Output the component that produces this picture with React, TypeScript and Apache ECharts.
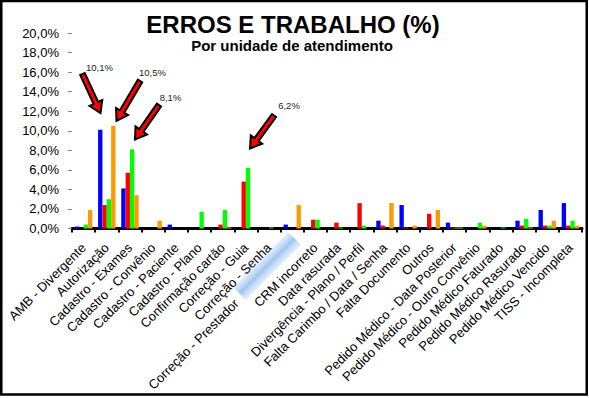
import React, { useEffect, useRef } from "react";
import * as echarts from "echarts";

const categories = [
  "AMB - Divergente",
  "Autorização",
  "Cadastro - Exames",
  "Cadastro - Convênio",
  "Cadastro - Paciente",
  "Cadastro - Plano",
  "Confirmação cartão",
  "Correção - Guia",
  "Correção - Senha",
  "Correção - Prestador",
  "CRM incorreto",
  "Data rasurada",
  "Divergência - Plano / Perfil",
  "Falta Carimbo / Data / Senha",
  "Falta Documento",
  "Outros",
  "Pedido Médico - Data Posterior",
  "Pedido Médico - Outro Convênio",
  "Pedido Médico Faturado",
  "Pedido Médico Rasurado",
  "Pedido Médico Vencido",
  "TISS - Incompleta",
];

const seriesNames = ["Unidade 1", "Unidade 2", "Unidade 3", "Unidade 4"];
const blueValues = [0.2, 10.1, 4.1, 0, 0.4, 0, 0, 0, 0, 0.4, 0, 0, 0, 0.8, 2.4, 0.1, 0.6, 0, 0, 0.8, 1.9, 2.6];
const redValues = [0, 2.4, 5.7, 0, 0, 0, 0.4, 4.8, 0, 0, 0.9, 0.6, 2.6, 0.3, 0.1, 1.5, 0.1, 0, 0, 0.3, 0.3, 0.3];
const greenValues = [0.4, 3.0, 8.1, 0, 0, 1.7, 1.9, 6.2, 0.1, 0, 0.9, 0.1, 0.3, 0, 0, 0, 0.1, 0.6, 0.1, 1.0, 0.3, 0.8];
const orangeValues = [1.9, 10.5, 3.4, 0.8, 0, 0, 0.1, 0, 0, 2.4, 0, 0, 0, 2.6, 0.3, 1.9, 0.1, 0.3, 0, 0.1, 0.8, 0.3];

const yTicks = [0, 2, 4, 6, 8, 10, 12, 14, 16, 18, 20];

const callouts = [
  { text: "10,1%", tail: [82.5, 74], tip: [100.5, 113], label: [99.5, 67.5] },
  { text: "10,5%", tail: [140, 81], tip: [116.5, 121], label: [152.5, 72.5] },
  { text: "8,1%", tail: [159, 105], tip: [135, 139.5], label: [170.5, 97.5] },
  { text: "6,2%", tail: [274, 115.5], tip: [250, 148.5], label: [289, 105.7] },
];

const displacedLabel = "Correção - Prestador";

const FONT = "'Liberation Sans', Arial, sans-serif";

function arrowPoints(tail: number[], tip: number[], sh: number, hh: number, hl: number) {
  const dx = tip[0] - tail[0];
  const dy = tip[1] - tail[1];
  const len = Math.sqrt(dx * dx + dy * dy);
  const ux = dx / len;
  const uy = dy / len;
  const px = -uy;
  const py = ux;
  const bx = tip[0] - ux * hl;
  const by = tip[1] - uy * hl;
  return [
    [tail[0] + px * sh, tail[1] + py * sh],
    [bx + px * sh, by + py * sh],
    [bx + px * hh, by + py * hh],
    [tip[0], tip[1]],
    [bx - px * hh, by - py * hh],
    [bx - px * sh, by - py * sh],
    [tail[0] - px * sh, tail[1] - py * sh],
  ];
}

export default function App() {
  const ref = useRef<HTMLDivElement>(null);

  useEffect(() => {
    if (!ref.current) return;
    const chart = echarts.init(ref.current, null, { renderer: "svg" });
    const colors = ["#0000FF", "#FF0000", "#00FF00", "#FF9900"];
    const values = [blueValues, redValues, greenValues, orangeValues];

    const graphics: any[] = [
      {
        type: "rect",
        z: 0,
        silent: true,
        shape: { x: 1.25, y: 1, width: 585.5, height: 393.5 },
        style: { fill: "none", stroke: "#000", lineWidth: 2.5 },
      },
      {
        type: "text",
        x: 293,
        y: 12,
        style: {
          text: "ERROS E TRABALHO (%)",
          font: `bold 24px ${FONT}`,
          fill: "#000",
          textAlign: "center",
          textVerticalAlign: "top",
        },
      },
      {
        type: "text",
        x: 292,
        y: 38,
        style: {
          text: "Por unidade de atendimento",
          font: `bold 15px ${FONT}`,
          fill: "#000",
          textAlign: "center",
          textVerticalAlign: "top",
        },
      },
      {
        type: "rect",
        x: 267,
        y: 266,
        rotation: Math.PI / 4,
        silent: true,
        z: 0,
        shape: { x: -39, y: -9, width: 78, height: 18 },
        style: {
          fill: new echarts.graphic.LinearGradient(0, 0, 0, 1, [
            { offset: 0, color: "rgba(200,222,248,0.5)" },
            { offset: 0.5, color: "#9fc4ef" },
            { offset: 1, color: "rgba(200,222,248,0.5)" },
          ]),
        },
      },
    ];

    callouts.forEach((c) => {
      graphics.push({
        type: "polygon",
        z: 10,
        shape: { points: arrowPoints(c.tail, c.tip, 2.5, 7, 11) },
        style: { fill: "#FF0000", stroke: "#000", lineWidth: 2, lineJoin: "miter" },
      });
      graphics.push({
        type: "text",
        z: 10,
        x: c.label[0],
        y: c.label[1],
        style: {
          text: c.text,
          font: `9.5px ${FONT}`,
          fill: "#222",
          textAlign: "center",
          textVerticalAlign: "middle",
        },
      });
    });

    chart.setOption({
      animation: false,
      backgroundColor: "#fff",
      grid: { left: 72, right: 7, top: 33, bottom: 169.5, containLabel: false },
      xAxis: {
        type: "category",
        data: categories,
        boundaryGap: true,
        axisLine: { show: true, lineStyle: { color: "#000", width: 3 } },
        axisTick: { show: true, length: 4, lineStyle: { color: "#000", width: 2 } },
        axisLabel: {
          interval: 0,
          rotate: 45,
          margin: 17,
          fontSize: 13,
          fontFamily: FONT,
          color: "#000",
          formatter: (v: string) => (v === displacedLabel ? `{d|${v}}` : v),
          rich: {
            d: {
              fontSize: 13,
              fontFamily: FONT,
              color: "#000",
              padding: [0, 79, 0, 0],
            },
          },
        },
      },
      yAxis: {
        type: "value",
        min: yTicks[0],
        max: yTicks[yTicks.length - 1],
        interval: 2,
        splitLine: { show: false },
        axisLine: { show: false },
        axisTick: { show: true, length: 4, lineStyle: { color: "#888", width: 1 } },
        axisLabel: {
          margin: 13,
          fontSize: 13,
          fontFamily: FONT,
          color: "#000",
          formatter: (v: number) => v.toFixed(1).replace(".", ",") + "%",
        },
      },
      series: values.map((vals, i) => ({
        name: seriesNames[i],
        type: "bar",
        data: vals,
        barGap: "0%",
        barCategoryGap: "25%",
        itemStyle: { color: colors[i] },
      })),
      graphic: graphics,
    });

    return () => chart.dispose();
  }, []);

  return (
    <div
      ref={ref}
      style={{ position: "fixed", left: 0, top: 0, width: 589, height: 398 }}
    />
  );
}
